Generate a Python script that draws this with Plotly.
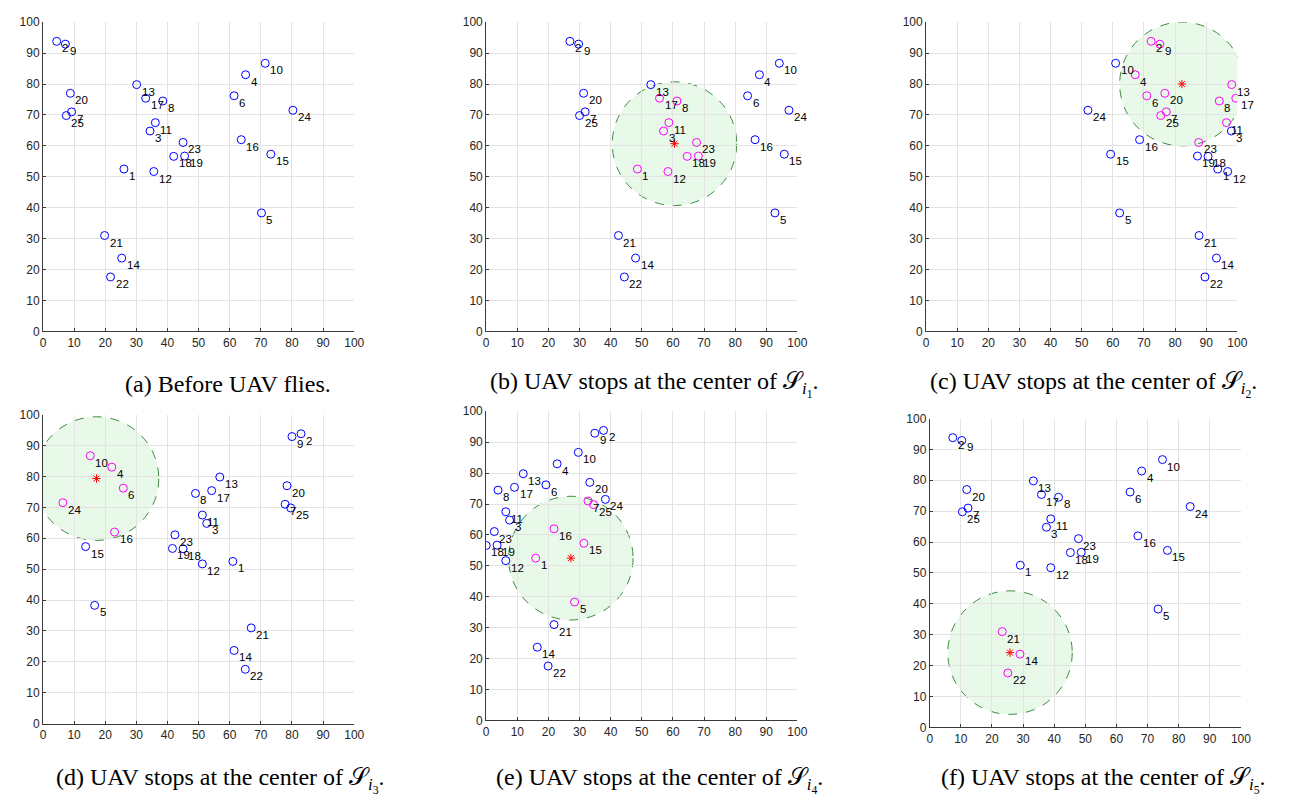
import plotly.graph_objects as go

# ---------------- data ----------------
point_ids = list(range(1, 26))
y_vals = [52.5, 93.8, 64.8, 83.0, 38.3, 76.2, 71.0, 74.5, 92.9, 86.7, 67.5, 51.7, 79.8,
          23.7, 57.3, 62.0, 75.4, 56.6, 56.7, 77.0, 31.0, 17.6, 61.1, 71.5, 69.8]

x_a = [26.0, 4.4, 34.4, 65.1, 70.2, 61.4, 9.2, 38.5, 7.2, 71.4, 36.1, 35.6, 30.1,
       25.3, 73.2, 63.7, 33.0, 42.0, 45.5, 8.8, 19.8, 21.7, 45.0, 80.3, 7.5]
x_b = [48.6, 26.9, 57.0, 87.8, 92.8, 84.0, 31.8, 61.3, 29.7, 94.2, 58.7, 58.4, 52.9,
       48.0, 95.8, 86.4, 55.7, 64.6, 68.2, 31.3, 42.5, 44.4, 67.6, 97.3, 30.0]
x_c = [93.7, 72.3, 98.1, 67.2, 62.2, 70.9, 77.2, 94.2, 75.1, 60.9, 96.5, 96.9, 98.2,
       93.3, 59.3, 68.6, 99.5, 90.6, 87.2, 76.7, 87.7, 89.6, 87.6, 52.0, 75.4]
x_d = [61.0, 82.9, 52.6, 22.1, 16.6, 25.8, 77.8, 49.0, 80.0, 15.2, 51.2, 51.2, 56.8,
       61.4, 13.7, 23.0, 54.2, 45.0, 41.6, 78.4, 66.9, 65.0, 42.4, 6.4, 79.6]
x_e = [15.9, 37.7, 7.5, 22.8, 28.4, 19.2, 32.7, 3.8, 34.9, 29.6, 6.3, 6.3, 11.9,
       16.4, 31.4, 21.8, 9.1, 0.0, 3.5, 33.3, 21.8, 19.9, 2.6, 38.3, 34.5]
x_f = [29.1, 7.4, 37.5, 68.1, 73.4, 64.4, 12.3, 41.4, 10.3, 74.8, 38.9, 38.9, 33.3,
       29.0, 76.4, 66.9, 35.9, 45.2, 48.7, 11.9, 23.3, 25.1, 47.8, 83.7, 10.5]

covered_a = []
covered_b = [1, 3, 8, 11, 12, 17, 18, 19, 23]
covered_c = [2, 4, 6, 7, 8, 9, 11, 13, 17, 20, 23, 25]
covered_d = [4, 6, 10, 16, 24]
covered_e = [1, 5, 7, 15, 16, 25]
covered_f = [14, 21, 22]

uav_x = [None, 60.5, 82.2, 17.2, 27.2, 25.8]
uav_y = [None, 60.7, 80.0, 79.3, 52.5, 24.2]
coverage_radius = 20

captions = [
    "(a) Before UAV flies.",
    "(b) UAV stops at the center of 𝒮<sub><i>i</i><sub>1</sub></sub>.",
    "(c) UAV stops at the center of 𝒮<sub><i>i</i><sub>2</sub></sub>.",
    "(d) UAV stops at the center of 𝒮<sub><i>i</i><sub>3</sub></sub>.",
    "(e) UAV stops at the center of 𝒮<sub><i>i</i><sub>4</sub></sub>.",
    "(f) UAV stops at the center of 𝒮<sub><i>i</i><sub>5</sub></sub>.",
]
tick_vals = list(range(0, 101, 10))

# ---------------- layout geometry (pixels) ----------------
W, H = 1302, 802
panels_px = [  # x0, x1, ytop, ybottom
    (32.3, 346.7, 7.3, 322.0),
    (480.0, 794.3, 7.3, 322.0),
    (924.3, 1238.7, 7.3, 322.0),
    (32.3, 346.7, 406.7, 721.3),
    (480.0, 794.3, 403.3, 718.0),
    (928.0, 1242.3, 410.7, 725.0),
]
caption_px = [(219, 376), (650, 376), (1093, 376), (212, 779), (655, 779), (1104, 779)]

xs_all = [x_a, x_b, x_c, x_d, x_e, x_f]
covered_all = [covered_a, covered_b, covered_c, covered_d, covered_e, covered_f]

fig = go.Figure()
shapes = []
annotations = []
label_font = dict(family="Liberation Sans, Arial, sans-serif", size=11.5, color="black")

for k in range(6):
    sfx = "" if k == 0 else str(k + 1)
    xr, yr = "x" + sfx, "y" + sfx
    xs = xs_all[k]
    cols = ["#ff00ff" if pid in covered_all[k] else "#0000ff" for pid in point_ids]

    if uav_x[k] is not None:
        shapes.append(dict(type="circle", xref=xr, yref=yr,
                           x0=uav_x[k] - coverage_radius, x1=uav_x[k] + coverage_radius,
                           y0=uav_y[k] - coverage_radius, y1=uav_y[k] + coverage_radius,
                           fillcolor="rgba(40,200,40,0.10)",
                           line=dict(color="#3f8a3f", width=1, dash="dash"),
                           layer="below"))

    fig.add_trace(go.Scatter(x=xs, y=y_vals, mode="markers", xaxis=xr, yaxis=yr,
                             marker=dict(symbol="circle-open", size=8, color=cols,
                                         line=dict(width=1, color=cols)),
                             showlegend=False, hoverinfo="skip"))
    if uav_x[k] is not None:
        fig.add_trace(go.Scatter(x=[uav_x[k]], y=[uav_y[k]], mode="markers", xaxis=xr, yaxis=yr,
                                 marker=dict(symbol="asterisk-open", size=7,
                                             line=dict(width=1, color="red"), color="red"),
                                 showlegend=False, hoverinfo="skip"))
    for pid, xv, yv in zip(point_ids, xs, y_vals):
        annotations.append(dict(x=xv, y=yv, xref=xr, yref=yr, text=str(pid), showarrow=False,
                                xanchor="left", yanchor="middle", xshift=3, yshift=-7,
                                font=label_font))

    x0, x1, yt, yb = panels_px[k]
    axis_common = dict(range=[0, 100], tickvals=tick_vals, showgrid=True, gridcolor="#e3e3e3",
                       gridwidth=1, zeroline=False, showline=True, linecolor="#3a3a3a",
                       linewidth=1, ticks="inside", ticklen=3, tickcolor="#3a3a3a",
                       tickfont=dict(family="Liberation Sans, Arial, sans-serif", size=12,
                                     color="#262626"),
                       fixedrange=True)
    fig.update_layout(**{
        "xaxis" + sfx: dict(domain=[x0 / W, x1 / W], anchor=yr, **axis_common),
        "yaxis" + sfx: dict(domain=[(H - yb) / H, (H - yt) / H], anchor=xr, **axis_common),
    })

    cx, cy = caption_px[k]
    annotations.append(dict(x=cx / W, y=(H - cy) / H, xref="paper", yref="paper",
                            text=captions[k], showarrow=False, xanchor="center",
                            yanchor="middle",
                            font=dict(family="Liberation Serif, Times New Roman, serif",
                                      size=24, color="black")))

fig.update_layout(width=W, height=H, margin=dict(l=0, r=0, t=0, b=0),
                  plot_bgcolor="white", paper_bgcolor="white",
                  shapes=shapes, annotations=annotations)

fig.write_html("out.html")
